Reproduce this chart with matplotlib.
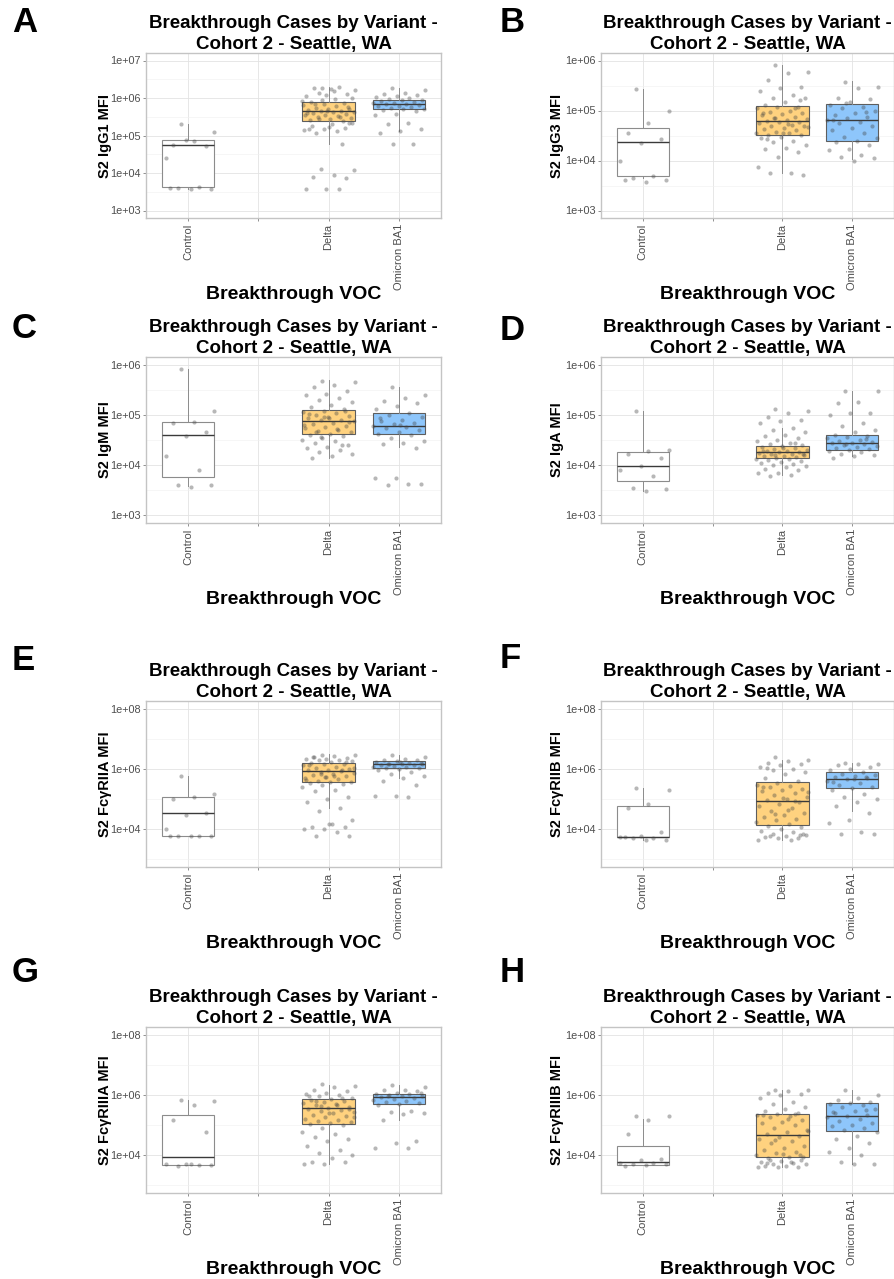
import numpy as np
import matplotlib
matplotlib.use("Agg")
import matplotlib.pyplot as plt
from matplotlib.ticker import FixedLocator, NullFormatter

plt.rcParams['font.family'] = ['Liberation Sans', 'DejaVu Sans']

categories = ["Control", "", "Delta", "Omicron BA1"]
title_text = "Breakthrough Cases by Variant -\nCohort 2 - Seattle, WA"
xlabel_text = "Breakthrough VOC"

# ---- panel A: S2 IgG1 ----
a_ctrl = [2.0e5, 1.25e5, 7.2e4, 5.6e4, 5.4e4, 7.8e4, 2.5e4, 4.3e3, 3.9e3, 3.8e3, 3.7e3, 4.0e3]
a_delta = [1.9e6, 1.6e6, 1.5e6, 1.8e6, 1.3e6, 1.2e6, 1.1e6, 2.0e6, 1.4e6, 1.0e6, 1.7e6,
           8e5, 7.5e5, 7e5, 6.5e5, 6e5, 5.5e5, 5.2e5, 5e5, 4.8e5, 4.5e5, 4.4e5, 4.3e5, 4.2e5,
           4e5, 3.8e5, 3.6e5, 3.5e5, 3.3e5, 3.2e5, 3e5, 2.8e5, 2.6e5, 2.5e5, 9e5, 8.5e5, 9.5e5,
           6.8e5, 5.8e5, 4.6e5, 3.9e5, 3.1e5, 2.7e5, 2.2e5, 2e5, 1.8e5, 1.6e5, 1.5e5, 1.4e5,
           1.3e5, 1.2e5, 2.1e5, 1.7e5, 1.45e5, 6e4, 1.3e4, 1.2e4, 9e3, 8e3, 7.5e3, 3.8e3, 3.7e3, 3.8e3]
a_omi = [1.8e6, 1.6e6, 1.4e6, 1.3e6, 1.2e6, 1.1e6, 1.05e6, 1e6, 9.5e5, 9e5, 8.8e5, 8.5e5, 8e5,
         7.5e5, 7.2e5, 7e5, 6.8e5, 6.5e5, 6.2e5, 6e5, 5.8e5, 5.5e5, 5.2e5, 5e5, 4.8e5, 4.5e5,
         3.8e5, 3.5e5, 2.2e5, 2e5, 1.5e5, 1.3e5, 1.2e5, 6e4, 6e4]
# box stats: [whisker low, q1, median, q3, whisker high]
a_boxes = [[3.7e3, 4.2e3, 5.5e4, 7.5e4, 2.0e5],
           [6.0e4, 2.4e5, 4.4e5, 7.8e5, 2.0e6],
           [1.3e5, 5.0e5, 7.0e5, 9.0e5, 1.8e6]]

# ---- panel B: S2 IgG3 ----
b_ctrl = [2.7e5, 1e5, 5.5e4, 3.5e4, 2.7e4, 2.2e4, 1e4, 5e3, 4.5e3, 4e3, 3.7e3, 4e3]
b_delta = [8e5, 6e5, 5.5e5, 4e5, 3e5, 2.8e5, 2.5e5, 2e5, 1.8e5, 1.8e5, 1.5e5, 1.3e5, 1.2e5,
           1.2e5, 1.1e5, 1e5, 9.5e4, 9e4, 8.5e4, 8e4, 7.5e4, 7e4, 6.8e4, 6.5e4, 6.2e4, 6e4,
           5.8e4, 5.5e4, 5.2e4, 5e4, 4.8e4, 4.5e4, 4.2e4, 4e4, 3.8e4, 3.6e4, 3.5e4, 3.3e4, 3.2e4,
           3e4, 2.8e4, 2.5e4, 2.3e4, 2e4, 1.8e4, 1.7e4, 1.5e4, 1.2e4, 7.5e3, 5.5e3, 5.5e3, 5.2e3,
           3.5e4, 9e4, 1.1e5, 7e4, 4.6e4, 5.3e4, 2.7e4, 1.6e5]
b_omi = [3.8e5, 3e5, 2.8e5, 1.8e5, 1.7e5, 1.5e5, 1.3e5, 1.2e5, 1.1e5, 1e5, 9e4, 8e4, 7.5e4,
         7e4, 6.5e4, 6e4, 5.5e4, 5e4, 4.5e4, 4e4, 3.5e4, 3e4, 2.8e4, 2.5e4, 2.3e4, 2e4, 1.7e4,
         1.6e4, 1.3e4, 1.2e4, 1.1e4, 1e4, 6.5e4, 9.5e4, 1.4e5]
b_boxes = [[4.5e3, 5.0e3, 2.3e4, 4.5e4, 2.7e5],
           [5.5e3, 3.3e4, 6.1e4, 1.25e5, 8.0e5],
           [1.05e4, 2.5e4, 6.5e4, 1.37e5, 3.9e5]]

# ---- panel C: S2 IgM ----
c_ctrl = [8.3e5, 1.2e5, 7.3e4, 6.8e4, 4.5e4, 3.8e4, 1.5e4, 8e3, 4.1e3, 4e3, 3.7e3]
c_delta = [4.8e5, 4.5e5, 4e5, 3.5e5, 3e5, 2.6e5, 2.5e5, 2.2e5, 2e5, 1.8e5, 1.6e5, 1.4e5, 1.3e5,
           1.2e5, 1.15e5, 1.1e5, 1e5, 9.5e4, 9e4, 8.5e4, 8e4, 7.8e4, 7.5e4, 7e4, 6.5e4, 6e4,
           5.8e4, 5.5e4, 5e4, 4.8e4, 4.5e4, 4.2e4, 4e4, 3.8e4, 3.5e4, 3.2e4, 3e4, 2.7e4, 2.5e4,
           2.3e4, 2.2e4, 2e4, 1.8e4, 1.7e4, 1.5e4, 1.4e4, 1.2e5, 9e4, 6.2e4, 5.2e4, 4.6e4, 7.2e4,
           8.8e4, 1.05e5, 2.5e4, 3.7e4]
c_omi = [3.5e5, 2.5e5, 2.2e5, 1.9e5, 1.7e5, 1.5e5, 1.3e5, 1.1e5, 1e5, 9e4, 8e4, 7.5e4, 7e4,
         6.5e4, 6e4, 5.8e4, 5.5e4, 5e4, 4.5e4, 4.2e4, 4e4, 3.5e4, 3e4, 2.8e4, 2.6e4, 2.2e4,
         5.5e3, 5.5e3, 4.3e3, 4.1e3, 4.2e3, 6.3e4, 8.5e4]
c_boxes = [[3.9e3, 5.8e3, 3.9e4, 7.1e4, 8.3e5],
           [1.4e4, 4.1e4, 7.6e4, 1.25e5, 4.9e5],
           [2.3e4, 4.1e4, 6.1e4, 1.1e5, 3.5e5]]

# ---- panel D: S2 IgA ----
d_ctrl = [1.2e5, 2e4, 1.9e4, 1.7e4, 1.4e4, 9.5e3, 8e3, 6e3, 3.5e3, 3.3e3, 3.1e3]
d_delta = [1.3e5, 1.2e5, 1.1e5, 9e4, 8e4, 7.5e4, 7e4, 5.5e4, 5e4, 4.5e4, 4e4, 3.8e4, 3.5e4,
           3.2e4, 3e4, 2.8e4, 2.6e4, 2.5e4, 2.4e4, 2.3e4, 2.2e4, 2.1e4, 2e4, 1.95e4, 1.9e4,
           1.85e4, 1.8e4, 1.75e4, 1.7e4, 1.65e4, 1.6e4, 1.55e4, 1.5e4, 1.45e4, 1.4e4, 1.35e4,
           1.3e4, 1.25e4, 1.2e4, 1.15e4, 1.1e4, 1.05e4, 1e4, 9.5e3, 9e3, 8.5e3, 8e3, 7e3, 7e3,
           6.5e3, 6e3, 1.7e4, 2.2e4, 1.9e4, 2.7e4, 1.6e4]
d_omi = [3e5, 3e5, 1.8e5, 1.7e5, 1.1e5, 1.1e5, 1e5, 7e4, 6e4, 5e4, 4.5e4, 4e4, 3.8e4, 3.6e4,
         3.4e4, 3.2e4, 3e4, 2.9e4, 2.8e4, 2.7e4, 2.6e4, 2.5e4, 2.4e4, 2.3e4, 2.2e4, 2.1e4, 2e4,
         1.9e4, 1.8e4, 1.7e4, 1.6e4, 1.5e4, 1.4e4, 3.3e4, 2.6e4]
d_boxes = [[3.1e3, 4.8e3, 9.7e3, 1.8e4, 1.2e5],
           [6.4e3, 1.36e4, 1.8e4, 2.4e4, 5.6e4],
           [1.5e4, 2.0e4, 2.7e4, 4.0e4, 3.0e5]]

# ---- panel E: S2 FcgRIIA ----
e_ctrl = [6e5, 1.5e5, 1.2e5, 1e5, 3.5e4, 3e4, 1e4, 6e3, 6e3, 6e3, 6e3, 6e3]
e_delta = [3e6, 2.8e6, 2.6e6, 2.5e6, 2.3e6, 2.2e6, 2.1e6, 2e6, 1.9e6, 1.8e6, 1.7e6, 1.6e6,
           1.5e6, 1.4e6, 1.3e6, 1.2e6, 1.1e6, 1e6, 9.5e5, 9e5, 8.5e5, 8e5, 7.5e5, 7e5, 6.5e5,
           6e5, 5.5e5, 5e5, 4.5e5, 4e5, 3.8e5, 3.6e5, 3.4e5, 3.2e5, 3e5, 2.5e5, 2e5, 1.8e5,
           1.2e5, 1e5, 8e4, 5e4, 4e4, 2e4, 1.5e4, 1.2e4, 1.2e4, 1e4, 1e4, 8e3, 6e3, 6e3, 1.5e4,
           1.3e6, 9e5, 7e5, 1.1e6, 6e5, 2.4e6, 1.7e6, 5.2e5, 4.2e5]
e_omi = [3e6, 2.5e6, 2.2e6, 2e6, 1.9e6, 1.8e6, 1.7e6, 1.6e6, 1.5e6, 1.45e6, 1.4e6, 1.35e6,
         1.3e6, 1.25e6, 1.2e6, 1.15e6, 1.1e6, 1.05e6, 1e6, 9e5, 8e5, 7e5, 6e5, 5e5, 4e5, 3e5,
         1.3e5, 1.3e5, 1.2e5, 1.4e6, 1.6e6, 1.7e6]
e_boxes = [[6.0e3, 6.0e3, 3.4e4, 1.2e5, 6.0e5],
           [5.0e4, 3.7e5, 8.4e5, 1.6e6, 3.1e6],
           [5.0e5, 1.1e6, 1.4e6, 1.8e6, 3.0e6]]

# ---- panel F: S2 FcgRIIB ----
f_ctrl = [2.3e5, 2e5, 7e4, 5e4, 8e3, 6e3, 5.5e3, 5e3, 5e3, 4.5e3, 4.5e3, 5.5e3]
f_delta = [2.5e6, 2e6, 1.8e6, 1.6e6, 1.5e6, 1.3e6, 1.2e6, 1e6, 9e5, 8e5, 7e5, 5e5, 4e5, 3.5e5,
           3e5, 2.8e5, 2.5e5, 2.2e5, 2e5, 1.8e5, 1.6e5, 1.4e5, 1.2e5, 1e5, 9e4, 8e4, 7e4, 6e4,
           5e4, 4e4, 3.5e4, 3e4, 2.5e4, 2.2e4, 2e4, 1.8e4, 1.5e4, 1.3e4, 1.2e4, 1e4, 9e3, 8e3,
           7e3, 6.5e3, 6e3, 5.5e3, 5e3, 5e3, 4.5e3, 4.5e3, 6e3, 7e3, 1.1e5, 2.6e5, 8.5e4, 3.2e4,
           1.7e5, 4.5e4, 1.1e6, 6.5e3]
f_omi = [1.6e6, 1.5e6, 1.4e6, 1.3e6, 1.2e6, 1e6, 9e5, 8e5, 7e5, 6.5e5, 6e5, 5.5e5, 5e5, 4.5e5,
         4e5, 3.5e5, 3e5, 2.5e5, 2.3e5, 2e5, 1.5e5, 1.2e5, 1e5, 8e4, 6e4, 3.5e4, 2e4, 1.6e4,
         8e3, 7e3, 7e3, 4.5e5, 3.8e5, 5.2e5]
f_boxes = [[4.5e3, 5.5e3, 5.7e3, 6.0e4, 2.3e5],
           [4.5e3, 1.35e4, 8.5e4, 3.7e5, 2.0e6],
           [4.0e4, 2.3e5, 4.5e5, 8.2e5, 1.6e6]]

# ---- panel G: S2 FcgRIIIA ----
g_ctrl = [7e5, 6.5e5, 4.5e5, 1.5e5, 6e4, 5e3, 5e3, 4.8e3, 4.5e3, 4.8e3, 5e3]
g_delta = [2.3e6, 2e6, 1.8e6, 1.5e6, 1.3e6, 1.2e6, 1.1e6, 1e6, 9e5, 8e5, 7.5e5, 7e5, 6.5e5,
           6e5, 5.5e5, 5e5, 4.5e5, 4e5, 3.8e5, 3.5e5, 3.2e5, 3e5, 2.8e5, 2.5e5, 2.2e5, 2e5,
           1.8e5, 1.6e5, 1.5e5, 1.4e5, 1.3e5, 1.2e5, 1.1e5, 1e5, 8e4, 6e4, 5e4, 4e4, 3.5e4, 3e4,
           2e4, 1.5e4, 1.2e4, 1e4, 8e3, 6e3, 6e3, 5e3, 5e3, 4.5e5, 6.2e5, 3.3e5, 2.6e5, 9.5e5,
           7.8e5, 4.2e5, 1.9e5]
g_omi = [2.1e6, 1.8e6, 1.5e6, 1.4e6, 1.3e6, 1.2e6, 1.1e6, 1.05e6, 1e6, 9.5e5, 9e5, 8.5e5, 8e5,
         7.5e5, 7e5, 6.5e5, 6e5, 5.5e5, 5e5, 4.5e5, 3e5, 2.8e5, 2.6e5, 2.3e5, 1.5e5, 3e4, 2.5e4,
         1.8e4, 1.7e4, 9e5, 1.2e6]
g_boxes = [[4.8e3, 4.8e3, 8.6e3, 2.1e5, 6.8e5],
           [5.0e3, 1.1e5, 3.6e5, 7.2e5, 2.1e6],
           [1.5e5, 4.9e5, 8.8e5, 1.1e6, 2.1e6]]

# ---- panel H: S2 FcgRIIIB ----
h_ctrl = [2e5, 2e5, 1.5e5, 5e4, 7.5e3, 7e3, 5.5e3, 5.5e3, 5e3, 5e3, 4.8e3, 4.5e3]
h_delta = [1.5e6, 1.4e6, 1.3e6, 1.2e6, 1.1e6, 1e6, 8e5, 6e5, 5e5, 4e5, 3.5e5, 3e5, 2.5e5,
           2.3e5, 2.2e5, 2e5, 1.8e5, 1.5e5, 1.3e5, 1.2e5, 1e5, 8e4, 7e4, 6e4, 5e4, 4.5e4, 4e4,
           3.5e4, 3e4, 2.5e4, 2e4, 1.8e4, 1.5e4, 1.3e4, 1.2e4, 1e4, 9e3, 8e3, 7e3, 6.5e3, 6e3,
           5.5e3, 5e3, 5e3, 4.5e3, 4.5e3, 4.2e3, 4e3, 4e3, 6e3, 7e3, 9e3, 1.1e4, 2.2e5, 2.4e5,
           3.2e4, 6.5e4, 1.6e5, 5.5e3, 1e4]
h_omi = [1.4e6, 1e6, 8e5, 7e5, 6e5, 5.5e5, 5e5, 4.5e5, 4e5, 3.5e5, 3e5, 2.5e5, 2.2e5, 2e5,
         1.8e5, 1.6e5, 1.4e5, 1.2e5, 1e5, 9e4, 8e4, 7e4, 6e4, 4.5e4, 3.5e4, 2.5e4, 1.8e4,
         1.3e4, 1e4, 6e3, 5e3, 5.3e3, 2.8e5, 3.2e5]
h_boxes = [[4.9e3, 4.9e3, 5.9e3, 2.1e4, 1.6e5],
           [4.1e3, 8.8e3, 4.8e4, 2.3e5, 1.5e6],
           [5.3e3, 6.2e4, 2.0e5, 5.6e5, 1.5e6]]

ylabels = ["S2 IgG1 MFI", "S2 IgG3 MFI", "S2 IgM MFI", "S2 IgA MFI",
           "S2 FcγRIIA MFI", "S2 FcγRIIB MFI", "S2 FcγRIIIA MFI", "S2 FcγRIIIB MFI"]
letters = ["A", "B", "C", "D", "E", "F", "G", "H"]
y_limits = [(3, 7), (3, 6), (3, 6), (3, 6), (3, 8), (3, 8), (3, 8), (3, 8)]
y_breaks = [[3, 4, 5, 6, 7], [3, 4, 5, 6], [3, 4, 5, 6], [3, 4, 5, 6],
            [4, 6, 8], [4, 6, 8], [4, 6, 8], [4, 6, 8]]

panel_data = [(a_ctrl, a_delta, a_omi, a_boxes), (b_ctrl, b_delta, b_omi, b_boxes),
              (c_ctrl, c_delta, c_omi, c_boxes), (d_ctrl, d_delta, d_omi, d_boxes),
              (e_ctrl, e_delta, e_omi, e_boxes), (f_ctrl, f_delta, f_omi, f_boxes),
              (g_ctrl, g_delta, g_omi, g_boxes), (h_ctrl, h_delta, h_omi, h_boxes)]

W, H = 895, 1279
fig = plt.figure(figsize=(W / 100, H / 100), dpi=100)

# axes boxes in pixels: (left, top, right, bottom)
col_x = [(146, 441), (601, 894)]
row_y = [(53, 218), (357, 523), (701, 867), (1027, 1193)]
letter_y = [22, 22, 328, 330, 660, 658, 972, 972]

box_fill = ["white", "#FFD27F", "#8EC6FB"]
box_edge = ["#8C8C8C", "#5E5E5E", "#5E5E5E"]
positions = [1, 3, 4]


def jitter(n, width=0.38):
    # deterministic spread (golden ratio sequence) in place of random jitter
    k = np.arange(n)
    return ((k * 0.6180339887 + 0.37) % 1.0 - 0.5) * 2 * width


for i in range(8):
    ctrl, delta, omi, boxes = panel_data[i]
    cx = col_x[i % 2]
    ry = row_y[i // 2]
    ax = fig.add_axes([cx[0] / W, 1 - ry[1] / H, (cx[1] - cx[0]) / W, (ry[1] - ry[0]) / H])
    ax.set_yscale('log')

    stats = []
    for b in boxes:
        stats.append(dict(whislo=b[0], q1=b[1], med=b[2], q3=b[3], whishi=b[4], fliers=[]))
    for j in range(3):
        ax.bxp([stats[j]], positions=[positions[j]], widths=0.75, patch_artist=True,
               showcaps=False, showfliers=False, manage_ticks=False,
               boxprops=dict(facecolor=box_fill[j], edgecolor=box_edge[j], linewidth=0.8),
               medianprops=dict(color='#3A3A3A', linewidth=1.0),
               whiskerprops=dict(color='#8C8C8C', linewidth=0.7), zorder=2)

    for j, vals in enumerate([ctrl, delta, omi]):
        vals = np.asarray(vals)
        ax.scatter(positions[j] + jitter(len(vals)), vals, s=9, color='#444444',
                   alpha=0.38, linewidths=0, zorder=3)

    lo, hi = y_limits[i]
    pad = (hi - lo) * 0.05
    ax.set_ylim(10 ** (lo - pad), 10 ** (hi + pad))
    ax.set_xlim(0.4, 4.6)

    brk = y_breaks[i]
    step = brk[1] - brk[0]
    minors = [b - step / 2 for b in brk] + [brk[-1] + step / 2]
    ax.yaxis.set_major_locator(FixedLocator([10.0 ** b for b in brk]))
    ax.yaxis.set_minor_locator(FixedLocator([10.0 ** m for m in minors]))
    ax.yaxis.set_minor_formatter(NullFormatter())
    ax.set_yticklabels(["1e+%02d" % b for b in brk])
    ax.set_xticks([1, 2, 3, 4])
    ax.set_xticklabels(categories, rotation=90)

    ax.grid(True, which='major', color='#E3E3E3', linewidth=0.6, zorder=0)
    ax.grid(True, which='minor', axis='y', color='#F0F0F0', linewidth=0.4, zorder=0)
    ax.set_axisbelow(True)
    for s in ax.spines.values():
        s.set_color('#C4C4C4')
        s.set_linewidth(1.0)
    ax.tick_params(axis='both', which='major', length=2.5, width=0.6, color='#7F7F7F',
                   labelcolor='#4D4D4D', pad=1.5)
    ax.tick_params(axis='y', labelsize=7.8)
    ax.tick_params(axis='x', labelsize=8)
    ax.tick_params(which='minor', length=0)

    ax.set_title(title_text, fontsize=13.5, fontweight='bold', pad=3, linespacing=1.3)
    ax.set_ylabel(ylabels[i], fontsize=10.5, fontweight='bold')
    ax.yaxis.set_label_coords(-0.115 if i % 2 == 0 else -0.125, 0.5)
    ax.set_xlabel(xlabel_text, fontsize=14, fontweight='bold')
    ax.xaxis.set_label_coords(0.5, -0.41)

    lx = 12 if i % 2 == 0 else 500
    fig.text(lx / W, 1 - letter_y[i] / H, letters[i], fontsize=25, fontweight='bold',
             ha='left', va='center')

fig.savefig("out.png", dpi=100)
